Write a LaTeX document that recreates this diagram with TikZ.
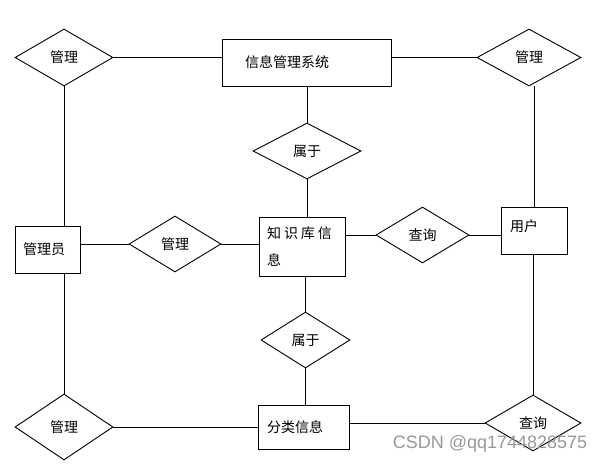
\documentclass[tikz,border=0pt]{standalone}
\usepackage{fontspec}
\newfontfamily\cjk{Noto Sans CJK SC}
\newfontfamily\wmfont{Liberation Sans}
\usetikzlibrary{shapes.geometric}
\tikzset{
    ent/.style={draw, rectangle, inner ysep=0pt, align=left},
    rel/.style={draw, diamond, inner sep=0pt, align=center},
}

\begin{document}
\begin{tikzpicture}[x=1pt, y=-1pt, line width=0.9pt, font=\cjk\fontsize{14}{27}\selectfont]
        \useasboundingbox[fill=white] (0, 0) rectangle (599, 463);

        \node[rel, minimum width=98pt, minimum height=57pt] (glL) at (64, 57.5) {管理};
        \node[ent, inner xsep=23pt, text width=123pt, minimum height=47pt] (sys) at (306.5, 62.5) {信息管理系统};
        \node[rel, minimum width=104pt, minimum height=57pt] (glR) at (529, 57.5) {管理};
        \node[rel, minimum width=108pt, minimum height=56pt] (sy1) at (307, 151) {属于};

        \node[ent, inner xsep=8pt, text width=49pt, minimum height=47pt] (adm) at (47.5, 249.5) {管理员};
        \node[rel, minimum width=92pt, minimum height=56pt] (glM) at (175, 244) {管理};
        \node[ent, inner xsep=8pt, text width=70pt, minimum height=59pt] (kb) at (302, 246.5) {知\hspace{3pt}识\hspace{3pt}库\hspace{3pt}信\\息};
        \node[rel, minimum width=93pt, minimum height=56pt] (cx1) at (422.5, 235) {查询};
        \node[ent, inner xsep=9pt, text width=48pt, text depth=10pt, minimum height=47pt] (usr) at (534, 230.5) {用户};

        \node[rel, minimum width=89pt, minimum height=56pt] (sy2) at (305.5, 340) {属于};

        \node[rel, minimum width=98pt, minimum height=66pt] (glB) at (64, 427) {管理};
        \node[ent, inner xsep=9pt, text width=73pt, minimum height=44pt] (cls) at (303.5, 427) {分类信息};
        \node[rel, minimum width=96pt, minimum height=56pt] (cx2) at (533, 423) {查询};

        \draw[-](glL.east)--(glL.east -| sys.west);
        \draw[-](sys.east |- glR.west)--(glR.west);
        \draw[-](sy1.north |- sys.south)--(sy1.north);
        \draw[-](sy1.south)--(sy1.south |- kb.north);
        \draw[-](glL.south)--(glL.south |- adm.north);
        \draw[-](usr.north)--(usr.north |- glR.south);

        \draw[-](adm.east |- glM.west)--(glM.west);
        \draw[-](glM.east)--(glM.east -| kb.west);
        \draw[-](kb.east |- cx1.west)--(cx1.west);
        \draw[-](cx1.east)--(cx1.east -| usr.west);

        \draw[-](sy2.north |- kb.south)--(sy2.north);
        \draw[-](sy2.south)--(sy2.south |- cls.north);
        \draw[-](glB.north |- adm.south)--(glB.north);
        \draw[-](cx2.north)--(cx2.north |- usr.south);
        \draw[-](glB.east)--(glB.east -| cls.west);
        \draw[-](cls.east |- cx2.west)--(cx2.west);

        \node[anchor=base east, text=black!40, font=\wmfont\fontsize{18}{20}\selectfont] (wm) at (591, 448) {CSDN @qq1744828575};
\end{tikzpicture}
\end{document}
